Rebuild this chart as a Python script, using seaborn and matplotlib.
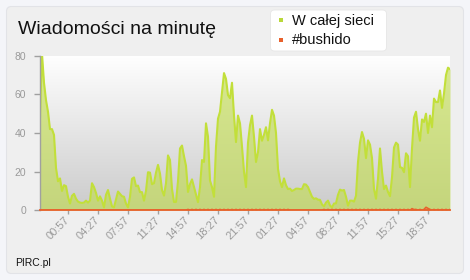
import numpy as np
import pandas as pd
import matplotlib
matplotlib.use("Agg")
import matplotlib.pyplot as plt
import seaborn as sns
from matplotlib.patches import FancyBboxPatch, Rectangle
from matplotlib.transforms import IdentityTransform
from matplotlib.colors import LinearSegmentedColormap

# ---------------- data ----------------
title = "Wiadomości na minutę"
series_names = ["W całej sieci", "#bushido"]
start_time = "21:41"
step_minutes = 14
tick_labels = ["00:57", "04:27", "07:57", "11:27", "14:57", "18:27", "21:57",
               "01:27", "04:57", "08:27", "11:57", "15:27", "18:57"]
y_ticks = [0, 20, 40, 60, 80]

network = [
    48, 81, 66, 57, 51, 42, 42, 39, 22, 15, 16.5, 10, 13, 12.5, 7, 3.5, 7.5, 8.5, 6, 4.5,
    4, 3.8, 4, 5, 4, 5, 14, 12, 9, 5, 7.2, 5, 1.5, 8, 10.5, 6, 2, 1.5, 5.5, 9.7,
    8.5, 7.3, 7, 3.5, 1.5, 7, 16.3, 17, 12.5, 12.8, 9.4, 9.4, 5, 10, 19.7, 19.5, 13.5, 14, 19.5, 23.5,
    19, 10.5, 7.6, 14, 28.4, 26, 11, 4.3, 4.3, 15, 32, 33.5, 28, 23, 9.5, 13.5, 16, 12, 8, 4.2,
    12, 26, 25, 45, 38, 15.4, 12, 7, 33, 47.4, 51, 61, 71, 68, 59.6, 58, 66, 49, 35.3, 49,
    45, 33, 20, 12, 35, 44, 49, 38, 25, 30, 42, 36, 39, 43, 36.2, 45, 52, 49, 40, 21.5,
    15, 12, 16.5, 13, 11, 11.2, 10, 10.5, 11.2, 11.2, 11, 11, 13.5, 13.3, 12, 9.5, 7, 5.9, 6.2, 5.5,
    5.4, 3, 2, 4, 5, 2.5, 1.5, 3.5, 3.6, 8, 10.7, 10.2, 10.5, 7, 2.4, 5, 5, 4.5, 7.5, 25,
    35, 40.5, 37, 27, 36.2, 34, 27, 11, 6, 16.3, 32, 20, 11, 12.8, 9.5, 7.3, 17, 32.5, 35, 34,
    22.3, 22, 19.7, 29.5, 28, 12, 32, 48, 51, 42, 36, 47, 45.7, 50, 40, 49, 43, 57.8, 56, 56,
    62, 53, 60.4, 70, 73.8, 73,
]

bushido = [
    0, 0, 0, 0, 0, 0, 0, 0, 0, 0, 0, 0, 0, 0, 0, 0, 0, 0, 0, 0,
    0, 0, 0, 0, 0, 0, 0, 0, 0, 0, 0, 0, 0, 0, 0, 0, 0, 0, 0, 0,
    0, 0, 0, 0, 0, 0, 0, 0, 0, 0, 0, 0, 0, 0, 0, 0, 0, 0, 0, 0,
    0, 0, 0, 0, 0, 0, 0, 0, 0, 0, 0, 0, 0, 0, 0.5, 0, 0.5, 0, 0.5, 0,
    0.5, 0, 0.5, 0, 0.5, 0, 0.5, 0, 0.5, 0, 0.5, 0, 0.5, 0, 0.5, 0, 0.5, 0, 0.5, 0,
    0.5, 0, 0.5, 0, 0.5, 0, 0.5, 0, 0.5, 0, 0.5, 0, 0.5, 0, 0.5, 0, 0.5, 0, 0.5, 0,
    0.5, 0, 0.5, 0, 0.5, 0, 0, 0, 0, 0, 0, 0, 0, 0, 0, 0, 0, 0, 0, 0,
    0, 0, 0.5, 0, 0.5, 0, 0.5, 0, 0.5, 0, 0.5, 0, 0.5, 0, 0.5, 0, 0.5, 0, 0.5, 0,
    0.5, 0, 0.5, 0, 0.5, 0, 0.5, 0, 0.5, 0, 0.5, 0, 0.5, 0, 0.5, 0, 0.5, 0, 0.5, 0,
    0.5, 0, 0.5, 0, 0.5, 0, 0.9, 0.4, 0.5, 0, 0.5, 0, 0.5, 1.6, 1.0, 0.5, 0, 0.5, 0, 0.5,
    0, 0.5, 0, 0.5, 0, 0.5,
]

# ---------------- style ----------------
sns.set_theme(style="white")
plt.rcParams['font.family'] = ['Liberation Sans', 'DejaVu Sans']

GREEN_LINE = '#c2df3a'
GREEN_FILL = '#c0dc48'
GREEN_KEY = '#b9d83a'
RED = '#e8612c'
GRAY = '#a0a0a0'

h, m = map(int, start_time.split(':'))
t0 = h * 60 + m
minutes = t0 + step_minutes * np.arange(len(network))
df = pd.DataFrame({'t': minutes, 'network': network, 'bushido': bushido})

tick_pos = []
day = 0
prev = t0
for lab in tick_labels:
    hh, mm = map(int, lab.split(':'))
    v = day * 1440 + hh * 60 + mm
    while v < prev:
        day += 1
        v += 1440
    tick_pos.append(v)
    prev = v

W, H = 470, 280
fig = plt.figure(figsize=(W / 100, H / 100), dpi=100)
fig.patch.set_facecolor('#f4f5f9')

ident = IdentityTransform()
panel = FancyBboxPatch((6.5, 6.5), 457, 267, boxstyle="round,pad=0,rounding_size=5",
                       transform=ident, facecolor='#efefef', edgecolor='#e2e3e7', lw=0.8, zorder=-10)
fig.patches.append(panel)

ax = fig.add_axes([40 / W, (H - 210.3) / H, 410 / W, 154.6 / H])
ax.patch.set_visible(False)

cmap = LinearSegmentedColormap.from_list('bg', ['#ffffff', '#cbcbcb'])
grad = np.linspace(0, 1, 256).reshape(-1, 1)
ax.imshow(grad, extent=[minutes[0], minutes[-1], 0, 80], aspect='auto', cmap=cmap, zorder=0)

ax.fill_between(df['t'], df['network'], color=GREEN_FILL, alpha=0.6, lw=0, zorder=1)
sns.lineplot(data=df, x='t', y='network', color=GREEN_LINE, lw=1.5, ax=ax, zorder=2)
ax.fill_between(df['t'], df['bushido'], color=RED, alpha=0.35, lw=0, zorder=3)
sns.lineplot(data=df, x='t', y='bushido', color=RED, lw=1.1, ax=ax, zorder=4)

ax.set_xlim(minutes[0], minutes[-1])
ax.set_ylim(0, 80)
ax.set_xlabel('')
ax.set_ylabel('')
ax.set_yticks(y_ticks)
ax.set_xticks(tick_pos)
ax.set_xticklabels(tick_labels, rotation=45, ha='right', va='center', rotation_mode='anchor')

for s in ['top', 'right']:
    ax.spines[s].set_visible(False)
ax.spines['left'].set_color(GRAY)
ax.spines['left'].set_linewidth(1)
ax.spines['bottom'].set_color(RED)
ax.spines['bottom'].set_linewidth(1.3)
ax.spines['bottom'].set_zorder(5)

ax.tick_params(axis='y', left=True, length=4, width=1, color=GRAY, labelsize=7.5,
               labelcolor='#9a9a9a', pad=6)
ax.tick_params(axis='x', bottom=True, length=3, width=1, color=GRAY, labelsize=8,
               labelcolor='#9a9a9a', pad=3)

# title
fig.text(18, H - 34.3, title, transform=ident, fontsize=14, va='baseline', ha='left', color='#111111')

# legend
lbox = FancyBboxPatch((270.5, H - 51), 116, 41, boxstyle="round,pad=0,rounding_size=4",
                      transform=ident, facecolor='white', edgecolor='#e6e6e6', lw=0.6, zorder=5)
fig.patches.append(lbox)
for name, col, yb, ysq in [(series_names[0], GREEN_KEY, 25.0, 22.3), (series_names[1], RED, 44.3, 42.3)]:
    fig.patches.append(Rectangle((279, H - ysq), 4, 4, transform=ident, facecolor=col, lw=0, zorder=6))
    fig.text(292, H - yb, name, transform=ident, fontsize=10.5, va='baseline', ha='left',
             color='#111111', zorder=7)

fig.text(15, H - 265.5, "PIRC.pl", transform=ident, fontsize=7.5, va='baseline', ha='left', color='#111111')

fig.savefig('out.png', dpi=100, facecolor=fig.get_facecolor())
